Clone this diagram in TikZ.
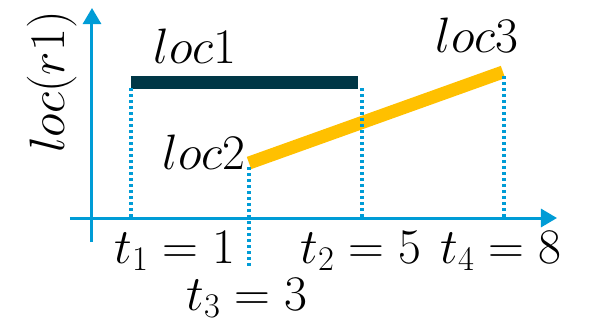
\documentclass[tikz,border=0pt]{standalone}
\usepackage{amsmath}
\usepackage{tikz}
\usetikzlibrary{arrows.meta}
\definecolor{axisblue}{RGB}{0,156,214}
\definecolor{barnavy}{RGB}{0,55,70}
\definecolor{barorange}{RGB}{255,192,0}

\begin{document}
\begin{tikzpicture}[
  x=0.5pt,y=-0.5pt,
  axis/.style={draw=axisblue,line width=1.5pt,-{Triangle[length=8pt,width=9pt]}},
  guide/.style={draw=axisblue,line width=1.6pt,dash pattern=on 1.6pt off 1.4pt},
  bar/.style={line width=6.5pt},
  lbl/.style={font=\fontsize{23}{28}\selectfont,inner sep=0pt,anchor=base}
]
\useasboundingbox (0,0) rectangle (591,323);
% axes
\coordinate (xs) at (70,218); \coordinate (xe) at (557,218);
\coordinate (ys) at (92,242); \coordinate (ye) at (92,8);
\draw[axis] (xs)--(xe);
\draw[axis] (ys)--(ye);
% intervals
\coordinate (p1) at (131,82); \coordinate (p2) at (358,82);
\coordinate (q1) at (249,163); \coordinate (q2) at (503,72);
\draw[bar,barnavy] (p1)--(p2);
\draw[bar,barorange] (q1)--(q2);
% time guides
\coordinate (g1a) at (131,88); \coordinate (g1b) at (131,218);
\coordinate (g3a) at (249,167); \coordinate (g3b) at (249,266);
\coordinate (g2a) at (362,88); \coordinate (g2b) at (362,218);
\coordinate (g4a) at (504,76); \coordinate (g4b) at (504,218);
\draw[guide] (g1a)--(g1b); \draw[guide] (g3a)--(g3b);
\draw[guide] (g2a)--(g2b); \draw[guide] (g4a)--(g4b);
% labels
\node[lbl] (l1) at (195,63) {$loc1$};
\node[lbl] (l2) at (204,169) {$loc2$};
\node[lbl] (l3) at (477,52) {$loc3$};
\node[lbl,rotate=90] (ylab) at (65,82) {$loc(r1)$};
\node[lbl] (t1) at (175,263) {$t_1 = 1$};
\node[lbl] (t2) at (361,263) {$t_2 = 5$};
\node[lbl] (t4) at (501,263) {$t_4 = 8$};
\node[lbl] (t3) at (247,310) {$t_3 = 3$};
\end{tikzpicture}
\end{document}
